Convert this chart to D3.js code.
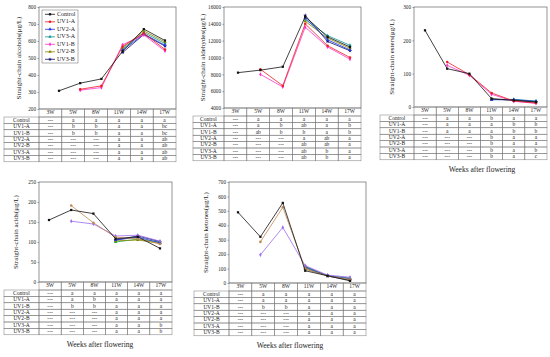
<!DOCTYPE html>
<html>
<head>
<meta charset="utf-8">
<script src="https://cdn.jsdelivr.net/npm/d3@7"></script>
<style>
  body { margin: 0; background: #fff; }
  svg text { font-family: "Liberation Serif", "DejaVu Serif", serif; fill: #222; }
</style>
</head>
<body>
<svg width="550" height="357" font-family="Liberation Serif, serif"></svg>
<script>
// weeks and treatment groups (table row order)
var weeks = ["3W", "5W", "8W", "11W", "14W", "17W"];
var groups = ["Control", "UV1-A", "UV1-B", "UV2-A", "UV2-B", "UV3-A", "UV3-B"];
var legendOrder = ["Control", "UV1-A", "UV2-A", "UV3-A", "UV1-B", "UV2-B", "UV3-B"];

// values per group, same order as groups; null = not sampled
var alcohols = [
  [307, 352, 377, 540, 670, 603],
  [null, 316, 336, 568, 646, 550],
  [null, 311, 326, 578, 636, 541],
  [null, null, null, 545, 641, 575],
  [null, null, null, 560, 659, 594],
  [null, null, null, 553, 650, 585],
  [null, null, null, 532, 638, 570]
];
var aldehydes = [
  [8200, 8500, 8900, 14850, 12450, 11250],
  [null, 8600, 6650, 14000, 11400, 10000],
  [null, 8000, 6500, 13600, 11250, 9800],
  [null, null, null, 14700, 12100, 10900],
  [null, null, null, 14300, 12300, 11100],
  [null, null, null, 14500, 12600, 11450],
  [null, null, null, 15000, 11900, 10800]
];
var esters = [
  [230, 115, 100, 25, 20, 15],
  [null, 135, 97, 42, 18, 12],
  [null, 125, 95, 38, 17, 11],
  [null, null, null, 22, 22, 17],
  [null, null, null, 24, 21, 16],
  [null, null, null, 22, 23, 18],
  [null, null, null, 23, 21, 15]
];
var acids = [
  [155, 180, 171, 108, 113, 84],
  [null, 191, 148, 112, 108, 95],
  [null, 152, 145, 115, 117, 102],
  [null, null, null, 105, 112, 98],
  [null, null, null, 103, 105, 97],
  [null, null, null, 100, 107, 100],
  [null, null, null, 105, 115, 101]
];
var ketones = [
  [490, 320, 555, 85, 50, 15],
  [null, 285, 525, 100, 48, 25],
  [null, 195, 385, 120, 55, 40],
  [null, null, null, 105, 50, 30],
  [null, null, null, 95, 52, 22],
  [null, null, null, 110, 50, 35],
  [null, null, null, 115, 48, 20]
];

// significance letters, rows = groups, cols = weeks
var alcoholLetters = [
  ["---", "a", "a", "a", "a", "a"],
  ["---", "b", "b", "a", "a", "bc"],
  ["---", "b", "b", "a", "a", "bc"],
  ["---", "---", "---", "a", "a", "ab"],
  ["---", "---", "---", "a", "a", "ab"],
  ["---", "---", "---", "a", "a", "ab"],
  ["---", "---", "---", "a", "a", "ab"]
];
var aldehydeLetters = [
  ["---", "a", "a", "a", "a", "a"],
  ["---", "a", "b", "ab", "a", "b"],
  ["---", "ab", "b", "b", "a", "b"],
  ["---", "---", "---", "a", "ab", "a"],
  ["---", "---", "---", "ab", "ab", "a"],
  ["---", "---", "---", "ab", "b", "a"],
  ["---", "---", "---", "ab", "b", "a"]
];
var esterLetters = [
  ["---", "a", "a", "b", "a", "a"],
  ["---", "a", "a", "a", "b", "b"],
  ["---", "a", "a", "a", "b", "b"],
  ["---", "---", "---", "b", "a", "a"],
  ["---", "---", "---", "b", "a", "a"],
  ["---", "---", "---", "b", "a", "b"],
  ["---", "---", "---", "b", "a", "c"]
];
var acidLetters = [
  ["---", "a", "a", "a", "a", "a"],
  ["---", "a", "b", "a", "a", "a"],
  ["---", "b", "b", "a", "a", "a"],
  ["---", "---", "---", "a", "a", "a"],
  ["---", "---", "---", "a", "a", "a"],
  ["---", "---", "---", "a", "a", "b"],
  ["---", "---", "---", "a", "a", "b"]
];
var ketoneLetters = [
  ["---", "a", "a", "a", "a", "a"],
  ["---", "a", "a", "a", "a", "a"],
  ["---", "b", "b", "a", "a", "a"],
  ["---", "---", "---", "a", "a", "a"],
  ["---", "---", "---", "a", "a", "a"],
  ["---", "---", "---", "a", "a", "a"],
  ["---", "---", "---", "a", "a", "a"]
];

// colours by group (groups order)
var colorsTop = ["#111111", "#ee1c24", "#ff33cc", "#2233dd", "#888800", "#119999", "#101070"];
var colorsBottom = ["#111111", "#c08850", "#9b6cf0", "#2233dd", "#888800", "#22aa44", "#101070"];
var symbols = [d3.symbolSquare, d3.symbolCircle, d3.symbolDiamond, d3.symbolTriangle, d3.symbolTriangle, d3.symbolTriangle, d3.symbolStar];

var panels = [
  {title: "Straight-chain alcohols(μg/L)", values: alcohols, letters: alcoholLetters, domain: [200, 800], step: 100,
   colors: colorsTop, x0: 39, x1: 176, y0: 7, y1: 109, tableLeft: 4, px: [59, 165], titleX: 19, legend: true},
  {title: "Straight-chain aldehydes(μg/L)", values: aldehydes, letters: aldehydeLetters, domain: [4000, 16000], step: 2000,
   colors: colorsTop, x0: 224, x1: 361, y0: 7, y1: 108, tableLeft: 193, px: [238, 350], titleX: 203},
  {title: "Straight-chain esters(μg/L)", values: esters, letters: esterLetters, domain: [0, 300], step: 100,
   colors: colorsTop, x0: 414, x1: 547, y0: 7, y1: 107, tableLeft: 380, px: [425, 536], titleX: 392, xlabel: 482},
  {title: "Straight-chain acids(μg/L)", values: acids, letters: acidLetters, domain: [0, 250], step: 50,
   colors: colorsBottom, x0: 39, x1: 172, y0: 182, y1: 282, tableLeft: 4, px: [49, 160], titleX: 16, xlabel: 100},
  {title: "Straight-chain ketones(μg/L)", values: ketones, letters: ketoneLetters, domain: [0, 700], step: 100,
   colors: colorsBottom, x0: 229, x1: 366, y0: 182, y1: 283, tableLeft: 194, px: [238, 350], titleX: 206, xlabel: 290}
];

var svg = d3.select("svg");
var headerH = 8, rowH = 6.4;

panels.forEach(function(p) {
  var g = svg.append("g");
  var y = d3.scaleLinear().domain(p.domain).range([p.y1, p.y0]);
  var x = d3.scalePoint().domain(weeks).range(p.px);
  var col = d3.scaleBand().domain(weeks).range([p.x0, p.x1]);

  // frame
  g.append("rect")
      .attr("x", p.x0).attr("y", p.y0)
      .attr("width", p.x1 - p.x0).attr("height", p.y1 - p.y0)
      .attr("fill", "none").attr("stroke", "#666").attr("stroke-width", 0.7);

  // y axis
  var ticks = d3.range(p.domain[0], p.domain[1] + 1, p.step);
  var axis = d3.axisLeft(y).tickValues(ticks).tickSize(1.5).tickPadding(1.5).tickFormat(d3.format("d"));
  g.append("g")
      .attr("transform", "translate(" + p.x0 + ",0)")
      .call(axis)
      .call(function(a) {
        a.select(".domain").remove();
        a.selectAll("line").attr("stroke", "#666").attr("stroke-width", 0.6);
        a.selectAll("text").style("font-size", "5.2px").style("font-family", "Liberation Serif").attr("fill", "#333");
      });

  g.append("text")
      .attr("transform", "translate(" + p.titleX + "," + ((p.y0 + p.y1) / 2) + ") rotate(-90)")
      .attr("text-anchor", "middle")
      .attr("dominant-baseline", "middle")
      .style("font-size", "7px")
      .text(p.title);

  // lines, drawn so that Control ends up on top
  var line = d3.line()
      .defined(function(d) { return d != null; })
      .x(function(d, i) { return x(weeks[i]); })
      .y(function(d) { return y(d); });

  d3.range(groups.length - 1, -1, -1).forEach(function(k) {
    var vals = p.values[k];
    g.append("path")
        .datum(vals)
        .attr("d", line)
        .attr("fill", "none")
        .attr("stroke", p.colors[k])
        .attr("stroke-width", 0.8);
    g.selectAll(null)
        .data(vals.map(function(v, i) { return {v: v, i: i}; }).filter(function(d) { return d.v != null; }))
        .enter().append("path")
        .attr("d", d3.symbol().type(symbols[k]).size(5))
        .attr("transform", function(d) { return "translate(" + x(weeks[d.i]) + "," + y(d.v) + ")"; })
        .attr("fill", p.colors[k]);
  });

  // legend
  if (p.legend) {
    var lg = g.append("g");
    lg.append("rect")
        .attr("x", p.x0 + 3).attr("y", 10).attr("width", 36).attr("height", 53)
        .attr("fill", "#fff").attr("stroke", "#666").attr("stroke-width", 0.5);
    legendOrder.forEach(function(name, i) {
      var k = groups.indexOf(name);
      var ly = 14.3 + i * 7.5;
      lg.append("line")
          .attr("x1", p.x0 + 6).attr("x2", p.x0 + 16)
          .attr("y1", ly).attr("y2", ly)
          .attr("stroke", p.colors[k]).attr("stroke-width", 0.8);
      lg.append("path")
          .attr("d", d3.symbol().type(symbols[k]).size(5))
          .attr("transform", "translate(" + (p.x0 + 11) + "," + ly + ")")
          .attr("fill", p.colors[k]);
      lg.append("text")
          .attr("x", p.x0 + 18).attr("y", ly)
          .attr("dominant-baseline", "middle")
          .style("font-size", "6px")
          .text(name);
    });
  }

  // table
  var tg = g.append("g");
  var ty = p.y1;
  weeks.forEach(function(w) {
    tg.append("rect")
        .attr("x", col(w)).attr("y", ty)
        .attr("width", col.bandwidth()).attr("height", headerH)
        .attr("fill", "none").attr("stroke", "#777").attr("stroke-width", 0.5);
    tg.append("text")
        .attr("x", col(w) + col.bandwidth() / 2).attr("y", ty + headerH / 2)
        .attr("text-anchor", "middle").attr("dominant-baseline", "middle")
        .style("font-size", "5.5px")
        .text(w);
  });
  groups.forEach(function(name, r) {
    var ry = ty + headerH + r * rowH;
    tg.append("rect")
        .attr("x", p.tableLeft).attr("y", ry)
        .attr("width", p.x0 - p.tableLeft).attr("height", rowH)
        .attr("fill", "none").attr("stroke", "#777").attr("stroke-width", 0.5);
    tg.append("text")
        .attr("x", (p.tableLeft + p.x0) / 2).attr("y", ry + rowH / 2 + 0.3)
        .attr("text-anchor", "middle").attr("dominant-baseline", "middle")
        .style("font-size", "5.5px")
        .text(name);
    weeks.forEach(function(w, c) {
      tg.append("rect")
          .attr("x", col(w)).attr("y", ry)
          .attr("width", col.bandwidth()).attr("height", rowH)
          .attr("fill", "none").attr("stroke", "#777").attr("stroke-width", 0.5);
      tg.append("text")
          .attr("x", col(w) + col.bandwidth() / 2).attr("y", ry + rowH / 2 + 0.3)
          .attr("text-anchor", "middle").attr("dominant-baseline", "middle")
          .style("font-size", "5.5px")
          .text(p.letters[r][c]);
    });
  });

  if (p.xlabel) {
    g.append("text")
        .attr("x", p.xlabel)
        .attr("y", ty + headerH + groups.length * rowH + 12)
        .attr("text-anchor", "middle")
        .style("font-size", "7.5px")
        .text("Weeks after flowering");
  }
});
</script>
</body>
</html>
